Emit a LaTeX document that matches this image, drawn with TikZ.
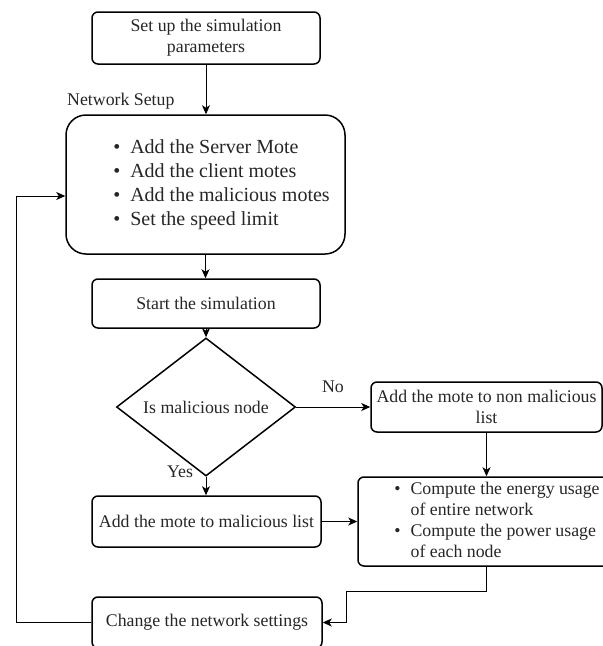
\documentclass[tikz,border=0pt]{standalone}
\usepackage{fontspec}
\setmainfont{Liberation Serif}
\usetikzlibrary{shapes.geometric,arrows.meta}
\begin{document}
\begin{tikzpicture}[x=1pt,y=-1pt,
  box/.style={draw, line width=1.5pt, rounded corners=6pt, align=center, inner sep=0pt, font=\fontsize{17.8}{21}\selectfont, text=black!85},
  conn/.style={line width=1pt, -{Stealth[length=9pt,width=8pt,inset=2.5pt]}},
  lbl/.style={font=\fontsize{17.8}{21}\selectfont, inner sep=0pt, text=black!85}]
\useasboundingbox (0,0) rectangle (603,646);
\node[box, minimum width=228pt, minimum height=52pt] (setup) at (206,38) {Set up the simulation\\parameters};
\node[box, rounded corners=20pt, minimum width=279pt, minimum height=139pt, font=\fontsize{20}{24}\selectfont] (net) at (205.5,184.5)
  {\begin{tabular}{@{\hspace{32pt}}l@{\hspace{10pt}}l@{}}\textbullet & Add the Server Mote\\ \textbullet & Add the client motes\\ \textbullet & Add the malicious motes\\ \textbullet & Set the speed limit\end{tabular}};
\node[lbl, anchor=west] (netlbl) at (67,101) {Network Setup};
\node[box, minimum width=228pt, minimum height=49pt] (start) at (206,303.5) {Start the simulation};
\node[draw, diamond, line width=1.5pt, inner sep=0pt, minimum width=179pt, minimum height=100pt, font=\fontsize{17.8}{21}\selectfont, text=black!85] (dec) at (206,407) {Is malicious node};
\node[box, minimum width=231pt, minimum height=50pt] (nonmal) at (486.5,407) {Add the mote to non malicious\\list};
\node[box, minimum width=229pt, minimum height=51pt] (mal) at (206.5,521.5) {Add the mote to malicious list};
\node[box, minimum width=256pt, minimum height=89pt] (comp) at (486,521.5)
  {\begin{tabular}{@{\hspace{22pt}}l@{\hspace{10pt}}l@{}}\textbullet & Compute the energy usage\\ & of entire network\\ \textbullet & Compute the power usage\\ & of each node\end{tabular}};
\node[box, minimum width=230pt, minimum height=51pt] (change) at (207,622.5) {Change the network settings};
\node[lbl] (nolbl) at (333,387) {No};
\node[lbl] (yeslbl) at (180,472) {Yes};
\coordinate (c1) at (486,591);
\coordinate (c2) at (346,591);
\coordinate (c3) at (346,622.5);
\coordinate (l1) at (16,622.5);
\coordinate (l2) at (16,196);
\draw[conn] (setup.south) -- (setup.south |- net.north);
\draw[conn] (net.south) -- (net.south |- start.north);
\draw[conn] (start.south) -- (start.south |- dec.north);
\draw[conn] (dec.east) -- (nonmal.west);
\draw[conn] (dec.south) -- (dec.south |- mal.north);
\draw[conn] (nonmal.south) -- (nonmal.south |- comp.north);
\draw[conn] (mal.east) -- (mal.east -| comp.west);
\draw[conn] (comp.south) -- (c1) -- (c2) -- (c3) -- (change.east);
\draw[conn] (change.west) -- (l1) -- (l2) -- (l2 -| net.west);
\end{tikzpicture}
\end{document}
